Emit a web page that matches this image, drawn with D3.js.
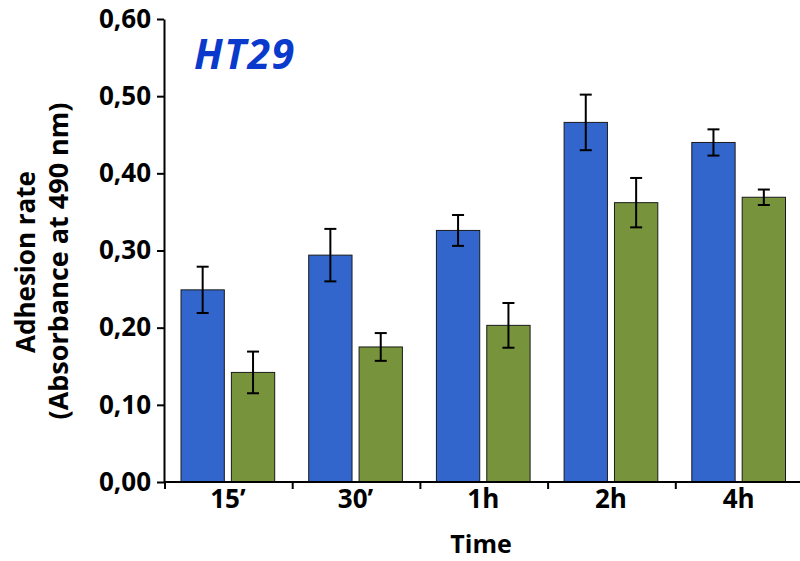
<!DOCTYPE html>
<html><head><meta charset="utf-8">
<script src="https://cdn.jsdelivr.net/npm/d3@7"></script>
<style>body{margin:0;background:#fff}svg{display:block}text{font-family:"Open Sans",sans-serif;font-weight:bold}</style>
</head><body><svg id="c" width="800" height="561"></svg>
<script>
const categories = ["15\u2019", "30\u2019", "1h", "2h", "4h"];
const seriesNames = ["A", "B"];
const blueValues = [0.249, 0.294, 0.326, 0.466, 0.440];
const blueErrors = [0.030, 0.034, 0.020, 0.036, 0.017];
const greenValues = [0.142, 0.175, 0.203, 0.362, 0.369];
const greenErrors = [0.027, 0.018, 0.029, 0.032, 0.010];
const yTicks = [0, 0.1, 0.2, 0.3, 0.4, 0.5, 0.6];
const colors = ["#3366CC", "#77933C"];

const svg = d3.select("#c");
const x0 = 164, step = 127.7;
const x = d3.scaleBand().domain(categories).range([x0, x0 + step * categories.length]).padding(0);
const xs = d3.scaleBand().domain(seriesNames).range([17, x.bandwidth() - 17]).paddingInner(0.14);
const y = d3.scaleLinear().domain([0, 0.6]).range([482, 19]);

const data = [];
categories.forEach((c, i) => {
  data.push({c, s: "A", v: blueValues[i], e: blueErrors[i], col: colors[0]});
  data.push({c, s: "B", v: greenValues[i], e: greenErrors[i], col: colors[1]});
});

svg.selectAll("rect.bar").data(data).join("rect").attr("class", "bar")
  .attr("x", d => x(d.c) + xs(d.s)).attr("width", xs.bandwidth())
  .attr("y", d => y(d.v)).attr("height", d => y(0) - y(d.v))
  .attr("fill", d => d.col).attr("stroke", "#1a1a1a").attr("stroke-width", 1);

const eb = svg.selectAll("g.err").data(data).join("g").attr("class", "err")
  .attr("stroke", "#000").attr("stroke-width", 2);
const cx = d => x(d.c) + xs(d.s) + xs.bandwidth()/2;
eb.append("line").attr("x1", cx).attr("x2", cx)
  .attr("y1", d => y(d.v + d.e)).attr("y2", d => y(d.v - d.e));
eb.append("line").attr("x1", d => cx(d) - 6).attr("x2", d => cx(d) + 6)
  .attr("y1", d => y(d.v + d.e)).attr("y2", d => y(d.v + d.e));
eb.append("line").attr("x1", d => cx(d) - 6).attr("x2", d => cx(d) + 6)
  .attr("y1", d => y(d.v - d.e)).attr("y2", d => y(d.v - d.e));

// Y axis
const yAxis = d3.axisLeft(y).tickValues(yTicks).tickSize(7).tickSizeOuter(0)
  .tickFormat(d => d3.format(".2f")(d).replace(".", ","));
const gy = svg.append("g").attr("transform", `translate(${x0},0)`).call(yAxis);
gy.select(".domain").attr("stroke", "#000").attr("stroke-width", 2);
gy.selectAll(".tick line").attr("stroke", "#000").attr("stroke-width", 2);
gy.selectAll(".tick text").attr("font-size", 26).attr("fill", "#000").attr("x", -13).attr("font-family", "Open Sans").attr("font-weight", "bold");

// X axis
const gx = svg.append("g").attr("transform", `translate(0,${y(0)})`);
gx.append("line").attr("x1", x0).attr("x2", x0 + step * categories.length).attr("stroke", "#000").attr("stroke-width", 2);
gx.selectAll("line.t").data(d3.range(categories.length + 1)).join("line").attr("class", "t")
  .attr("x1", i => x0 + i * x.step() + 1).attr("x2", i => x0 + i * x.step() + 1)
  .attr("y1", 0).attr("y2", 7).attr("stroke", "#000").attr("stroke-width", 2);
gx.selectAll("text").data(categories).join("text")
  .attr("x", d => x(d) + x.bandwidth()/2).attr("y", 26).attr("text-anchor", "middle")
  .attr("font-size", 26).text(d => d);

// Titles
svg.append("text").attr("x", 481).attr("y", 553).attr("text-anchor", "middle").attr("font-size", 25).text("Time");
svg.append("text").attr("transform", "translate(35,262) rotate(-90)").attr("text-anchor", "middle").attr("font-size", 26).text("Adhesion rate");
svg.append("text").attr("transform", "translate(68,261) rotate(-90)").attr("text-anchor", "middle").attr("font-size", 27).text("(Absorbance at 490 nm)");
svg.append("text").attr("x", 194).attr("y", 69).attr("font-size", 41).attr("letter-spacing", 1.5).attr("font-style", "italic").attr("fill", "#0A3ACC").text("HT29");
</script></body></html>
